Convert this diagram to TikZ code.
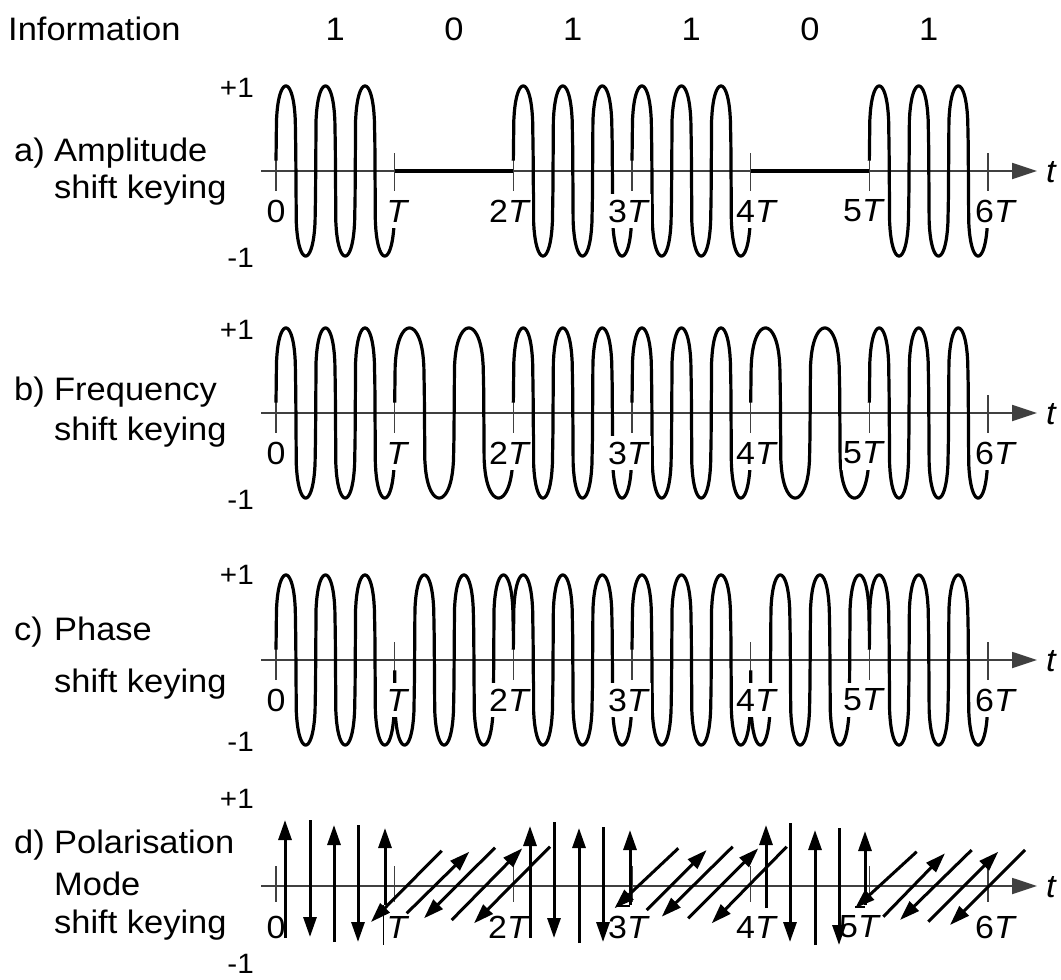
\documentclass[tikz,border=0pt]{standalone}
\usepackage{fontspec}
\setmainfont{Liberation Sans}[FakeStretch=1.06]
\usetikzlibrary{arrows.meta}
\newcommand\wv[5]{\draw[wave] plot[domain=#2:#3,samples=241] ({276+118.667*\x},{#1-(#5)*85*spw(sin(#4*360*\x))});}
\begin{document}
\begin{tikzpicture}[x=1pt,y=-1pt,
  declare function={spw(\s)=(\s<0 ? -1 : 1)*pow(abs(\s)+0.00002,0.2);},
  wave/.style={line width=3.2pt, line join=round},
  axisline/.style={line width=1.8pt, black!75, -{Triangle[length=25pt,width=16pt]}},
  tickmark/.style={line width=1.6pt, black!75},
  dtick/.style={line width=1.1pt, black!75},
  parr/.style={line width=3pt, -{Triangle[length=20pt,width=13pt]}},
  txt/.style={font=\fontsize{32.5}{36}\selectfont, inner sep=0pt, anchor=base west},
  bitlbl/.style={font=\fontsize{32.5}{36}\selectfont, inner sep=0pt, anchor=base},
  pm/.style={font=\fontsize{28}{30}\selectfont, inner sep=0pt, anchor=base east},
  tl/.style={font=\fontsize{32}{34}\selectfont, inner xsep=1pt, inner ysep=6pt, fill=white},
  tld/.style={font=\fontsize{32}{34}\selectfont, inner sep=0pt},
  tvar/.style={font=\fontsize{32.5}{36}\selectfont\itshape, inner sep=0pt},
]
\useasboundingbox (0,0) rectangle (1061,980);

% header
\node[txt] (info) at (8,40) {Information};
\node[bitlbl] (bA) at (335.3,40) {1};
\node[bitlbl] (bB) at (454.0,40) {0};
\node[bitlbl] (bC) at (572.7,40) {1};
\node[bitlbl] (bD) at (691.3,40) {1};
\node[bitlbl] (bE) at (810.0,40) {0};
\node[bitlbl] (bF) at (928.7,40) {1};

% left labels
\node[txt] (la0) at (14,161) {a)};
\node[txt] (la1) at (54,161) {Amplitude};
\node[txt] (la2) at (54,198) {shift keying};
\node[txt] (lb0) at (14,400) {b)};
\node[txt] (lb1) at (54,400) {Frequency};
\node[txt] (lb2) at (54,440) {shift keying};
\node[txt] (lc0) at (14,640) {c)};
\node[txt] (lc1) at (54,640) {Phase};
\node[txt] (lc2) at (54,692) {shift keying};
\node[txt] (ld0) at (14,853) {d)};
\node[txt] (ld1) at (54,853) {Polarisation};
\node[txt] (ld2) at (54,895) {Mode};
\node[txt] (ld3) at (54,933) {shift keying};

% +1 / -1
\node[pm] (pa) at (254,97) {+1};
\node[pm] (ma) at (254,267) {-1};
\node[pm] (pb) at (254,339) {+1};
\node[pm] (mb) at (254,509) {-1};
\node[pm] (pc) at (254,584) {+1};
\node[pm] (mc) at (254,751) {-1};
\node[pm] (pd) at (254,808) {+1};
\node[pm] (md) at (254,973) {-1};

% axes and ticks
\foreach \ay/\nm in {171/a,413/b,660/c,886/d} {
  \coordinate (ax\nm0) at (261,\ay);
  \coordinate (ax\nm1) at (1037,\ay);
  \draw[axisline] (ax\nm0) -- (ax\nm1);
  \node[tvar] (t\nm) at (1051,{\ay+1}) {t};
}
\foreach \ay in {171,413,660} {
  \foreach \k in {0,...,6}
    \draw[tickmark] ({276+118.667*\k},{\ay-18}) -- ({276+118.667*\k},{\ay+20});
}
\foreach \k in {0,...,6}
  \draw[dtick] ({276+118.667*\k},866) -- ({276+118.667*\k},902);

% a) ASK
\wv{171}{0}{1}{3}{1}
\draw[wave] (394.667,171) -- (513.333,171);
\wv{171}{2}{3}{3}{1}
\wv{171}{3}{4}{3}{1}
\draw[wave] (750.667,171) -- (869.333,171);
\wv{171}{5}{6}{3}{1}

% b) FSK
\wv{413}{0}{1}{3}{1}
\wv{413}{1}{2}{2}{1}
\wv{413}{2}{3}{3}{1}
\wv{413}{3}{4}{3}{1}
\wv{413}{4}{5}{2}{1}
\wv{413}{5}{6}{3}{1}

% c) PSK
\wv{660}{0}{1}{3}{1}
\wv{660}{1}{2}{3}{-1}
\wv{660}{2}{3}{3}{1}
\wv{660}{3}{4}{3}{1}
\wv{660}{4}{5}{3}{-1}
\wv{660}{5}{6}{3}{1}

% tick labels a-c (opaque)
\foreach \ay/\nm in {171/a,413/b,660/c} {
  \node[tl] (z\nm0) at (276,{\ay+40}) {0};
  \node[tl] (z\nm1) at (398,{\ay+40}) {\textit{T}};
  \node[tl] (z\nm2) at (510,{\ay+40}) {2\textit{T}};
  \node[tl] (z\nm3) at (629,{\ay+40}) {3\textit{T}};
  \node[tl] (z\nm4) at (757,{\ay+40}) {4\textit{T}};
  \node[tl] (z\nm5) at (864,{\ay+40}) {5\textit{T}};
  \node[tl] (z\nm6) at (996,{\ay+40}) {6\textit{T}};
}

% d) tick labels
\node[tld] (zd0) at (276,927) {0};
\node[tld] (zd1) at (398,927) {\textit{T}};
\node[tld] (zd2) at (509,927) {2\textit{T}};
\node[tld] (zd3) at (629,927) {3\textit{T}};
\node[tld] (zd4) at (757,927) {4\textit{T}};
\node[tld] (zd5) at (860,927) {5\textit{T}};
\node[tld] (zd6) at (996,927) {6\textit{T}};

% d) vertical polarisation arrows
\foreach \x/\ya/\yb in {285/938/820, 310/820/937, 334/942/825, 358/825/942, 385/905/828,
                         530/938/826, 554/822/938, 579/943/828, 603/827/942, 630/905/830,
                         766/908/825, 790/823/942, 815/945/830, 839/828/945, 865/905/831}
  \draw[parr] (\x,\ya) -- (\x,\yb);
\draw[line width=1pt] (383,905) -- (383,945);
\draw[line width=2pt] (616,906) -- (630,906);
\draw[line width=2pt] (855,907) -- (865,907);

% d) diagonal polarisation arrows
\foreach \xa/\ya/\xb/\yb in {441.7/850.7/371/922, 406.7/913.3/469.3/851.7, 495/847.7/424/918.3,
                             451.7/920/522.3/848.3, 550/846.7/474/923.3,
                             678.3/848.3/614.5/908.3, 646.7/910/706.7/850, 732.7/846.7/661.7/916.7,
                             688.3/918.3/758.3/848.3, 786.7/846.7/711.7/923.3,
                             916.7/851.7/855/908.3, 883.3/916.7/945/853.3, 971.7/850/900/920,
                             928.3/921.7/998.3/851.7, 1025/850/950/925}
  \draw[parr] (\xa,\ya) -- (\xb,\yb);
\end{tikzpicture}
\end{document}
